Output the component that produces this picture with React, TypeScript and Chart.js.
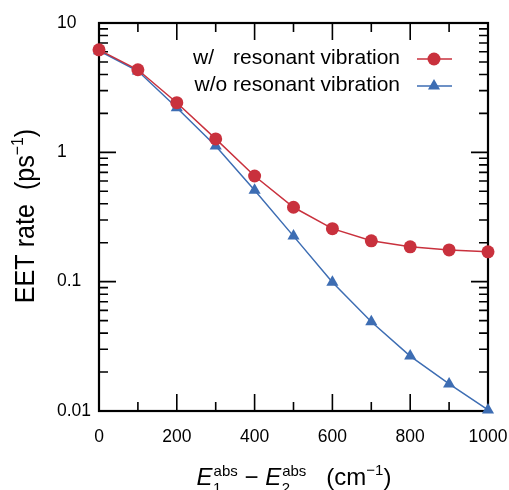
import React, { useEffect, useRef } from "react";
import { Chart, registerables } from "chart.js";

Chart.register(...registerables);

const energyGap = [0, 100, 200, 300, 400, 500, 600, 700, 800, 900, 1000];
const withVibration = [6.2, 4.35, 2.42, 1.27, 0.656, 0.376, 0.257, 0.207, 0.186, 0.176, 0.17];
const withoutVibration = [6.1, 4.25, 2.21, 1.12, 0.51, 0.225, 0.099, 0.049, 0.0266, 0.0162, 0.0102];
const yTickValues = [0.01, 0.1, 1, 10];
const yTickLabels = ["0.01", "0.1", "1", "10"];
const xMajorTicks = [0, 200, 400, 600, 800, 1000];
const xMinorTicks = [100, 300, 500, 700, 900];
const seriesNames = ["w/", "w/o"];
const legendText = "resonant vibration";

const RED = "#c9313d";
const BLUE = "#3d6db3";
const FONT = "'Liberation Sans', Arial, Helvetica, sans-serif";

const framePlugin = {
  id: "framePlugin",
  beforeDatasetsDraw(chart: any) {
    const ctx = chart.ctx;
    const { left, right, top, bottom } = chart.chartArea;
    const xs = chart.scales.x;
    const ys = chart.scales.y;
    ctx.save();
    ctx.strokeStyle = "#000";
    ctx.lineWidth = 1.6;
    const major = 17;
    const minor = 9;
    ctx.beginPath();
    const xt = (v: number, len: number) => {
      const px = xs.getPixelForValue(v);
      ctx.moveTo(px, bottom);
      ctx.lineTo(px, bottom - len);
      ctx.moveTo(px, top);
      ctx.lineTo(px, top + len);
    };
    xMajorTicks.forEach((v) => xt(v, major));
    xMinorTicks.forEach((v) => xt(v, minor));
    const yt = (v: number, len: number) => {
      const py = ys.getPixelForValue(v);
      ctx.moveTo(left, py);
      ctx.lineTo(left + len, py);
      ctx.moveTo(right, py);
      ctx.lineTo(right - len, py);
    };
    yTickValues.forEach((v) => yt(v, major));
    for (let d = 0; d < yTickValues.length - 1; d++) {
      for (let m = 2; m <= 9; m++) yt(m * yTickValues[d], minor);
    }
    ctx.stroke();
    ctx.lineWidth = 2.2;
    ctx.strokeRect(left, top, right - left, bottom - top);
    ctx.restore();
  },
  afterDraw(chart: any) {
    const ctx = chart.ctx;
    ctx.save();
    ctx.fillStyle = "#000";

    // Legend
    const rows = [
      { y: 59, base: 64, color: RED, style: "circle", name: seriesNames[0], joined: false },
      { y: 86, base: 91, color: BLUE, style: "triangle", name: seriesNames[1], joined: true },
    ];
    ctx.font = `21px ${FONT}`;
    rows.forEach((r) => {
      ctx.textBaseline = "alphabetic";
      if (r.joined) {
        ctx.textAlign = "right";
        ctx.fillText(`${r.name} ${legendText}`, 400, r.base);
      } else {
        ctx.textAlign = "left";
        ctx.fillText(r.name, 193, r.base);
        ctx.textAlign = "right";
        ctx.fillText(legendText, 400, r.base);
      }
      ctx.strokeStyle = r.color;
      ctx.lineWidth = 1.5;
      ctx.beginPath();
      ctx.moveTo(417, r.y);
      ctx.lineTo(452, r.y);
      ctx.stroke();
      ctx.fillStyle = r.color;
      ctx.beginPath();
      if (r.style === "circle") {
        ctx.arc(434, r.y, 6.5, 0, Math.PI * 2);
      } else {
        const rad = 7;
        ctx.moveTo(434, r.y - rad);
        ctx.lineTo(434 + rad * 0.866, r.y + rad * 0.5);
        ctx.lineTo(434 - rad * 0.866, r.y + rad * 0.5);
        ctx.closePath();
      }
      ctx.fill();
      ctx.fillStyle = "#000";
    });

    // Y title
    ctx.save();
    ctx.translate(34, 216);
    ctx.rotate(-Math.PI / 2);
    ctx.scale(0.93, 1);
    ctx.textAlign = "left";
    ctx.textBaseline = "alphabetic";
    const big = `27px ${FONT}`;
    const small = `17px ${FONT}`;
    const ySegs = [
      { t: "EET rate  (ps", f: big, dy: 0 },
      { t: "\u22121", f: small, dy: -11 },
      { t: ")", f: big, dy: 0 },
    ];
    let w = 0;
    ySegs.forEach((s) => {
      ctx.font = s.f;
      w += ctx.measureText(s.t).width;
    });
    let cx = -w / 2;
    ySegs.forEach((s) => {
      ctx.font = s.f;
      ctx.fillText(s.t, cx, s.dy);
      cx += ctx.measureText(s.t).width;
    });
    ctx.restore();

    // X title
    const ital = `italic 24px ${FONT}`;
    const norm = `24px ${FONT}`;
    const sm = `15px ${FONT}`;
    type Seg = { t: string; f: string; dy: number; sub?: string };
    const xSegs: Seg[] = [
      { t: "E", f: ital, dy: 0 },
      { t: "abs", f: sm, dy: -9, sub: "1" },
      { t: " \u2212 ", f: norm, dy: 0 },
      { t: "E", f: ital, dy: 0 },
      { t: "abs", f: sm, dy: -9, sub: "2" },
      { t: "   (cm", f: norm, dy: 0 },
      { t: "\u22121", f: sm, dy: -10 },
      { t: ")", f: norm, dy: 0 },
    ];
    ctx.textAlign = "left";
    ctx.textBaseline = "alphabetic";
    let total = 0;
    xSegs.forEach((s) => {
      ctx.font = s.f;
      total += ctx.measureText(s.t).width + (s.sub ? 1 : 0);
    });
    let x = 294 - total / 2;
    const baseY = 485;
    xSegs.forEach((s) => {
      ctx.font = s.f;
      if (s.sub) {
        ctx.fillText(s.sub, x + 0.5, baseY + 8);
        x += 1;
      }
      ctx.fillText(s.t, x, baseY + s.dy);
      x += ctx.measureText(s.t).width;
    });

    ctx.restore();
  },
};

export default function App() {
  const ref = useRef<HTMLCanvasElement>(null);
  useEffect(() => {
    if (!ref.current) return;
    const chart = new Chart(ref.current, {
      type: "line",
      data: {
        datasets: [
          {
            label: "w/ resonant vibration",
            data: energyGap.map((x, i) => ({ x, y: withVibration[i] })),
            borderColor: RED,
            backgroundColor: RED,
            borderWidth: 1.5,
            pointStyle: "circle",
            pointRadius: 6.5,
            pointBorderWidth: 0,
            clip: false,
          },
          {
            label: "w/o resonant vibration",
            data: energyGap.map((x, i) => ({ x, y: withoutVibration[i] })),
            borderColor: BLUE,
            backgroundColor: BLUE,
            borderWidth: 1.5,
            pointStyle: "triangle",
            pointRadius: 7,
            pointBorderWidth: 0,
            clip: false,
          },
        ],
      },
      options: {
        responsive: false,
        animation: false,
        layout: { padding: { top: 23, right: 21, left: 57, bottom: 0 } },
        plugins: { legend: { display: false }, tooltip: { enabled: false } },
        scales: {
          x: {
            type: "linear",
            min: 0,
            max: 1000,
            grid: { display: false, drawTicks: false },
            border: { display: false },
            afterBuildTicks: (s: any) => {
              s.ticks = xMajorTicks.map((v) => ({ value: v }));
            },
            afterFit: (s: any) => {
              s.height = 79;
              s.paddingLeft = 0;
              s.paddingRight = 0;
            },
            ticks: {
              color: "#000",
              font: { family: FONT, size: 17.5 },
              padding: 16,
              maxRotation: 0,
              autoSkip: false,
              callback: (v: any) => String(v),
            },
          },
          y: {
            type: "logarithmic",
            min: 0.01,
            max: 10,
            grid: { display: false, drawTicks: false },
            border: { display: false },
            afterBuildTicks: (s: any) => {
              s.ticks = yTickValues.map((v) => ({ value: v }));
            },
            afterFit: (s: any) => {
              s.width = 42;
              s.paddingTop = 0;
              s.paddingBottom = 0;
            },
            ticks: {
              color: "#000",
              font: { family: FONT, size: 17.5 },
              padding: 9,
              crossAlign: "far",
              autoSkip: false,
              callback: (v: any) => {
                const i = yTickValues.indexOf(Number(v));
                return i >= 0 ? yTickLabels[i] : "";
              },
            },
          },
        },
      },
      plugins: [framePlugin],
    } as any);
    return () => chart.destroy();
  }, []);
  return (
    <div style={{ position: "absolute", left: 0, top: 0, width: 509, height: 490, background: "#fff" }}>
      <canvas ref={ref} width={509} height={490} />
    </div>
  );
}
